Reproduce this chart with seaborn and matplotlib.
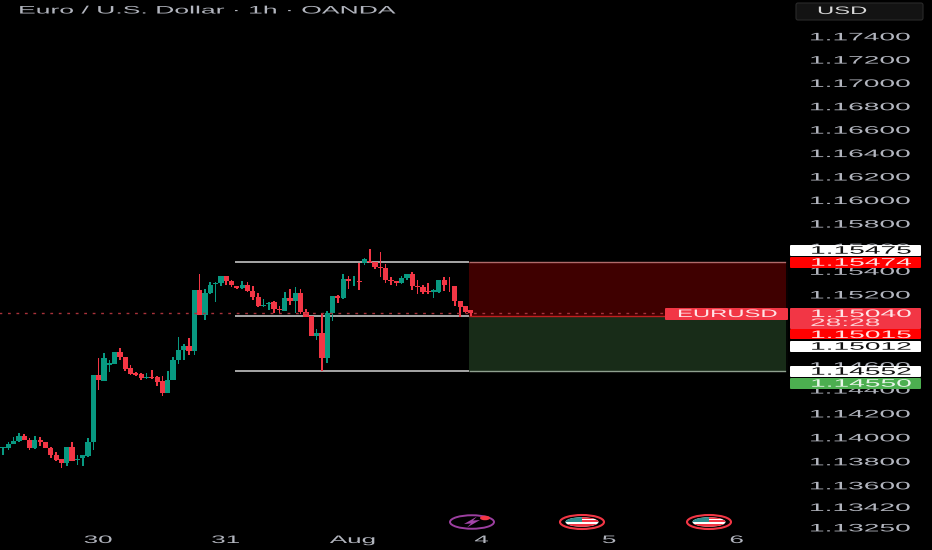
import numpy as np
import pandas as pd
import matplotlib
matplotlib.use("Agg")
import matplotlib.pyplot as plt
import seaborn as sns
from matplotlib.patches import Ellipse, Polygon, Rectangle, FancyBboxPatch
from matplotlib.patheffects import AbstractPathEffect
from matplotlib.ticker import NullLocator
from matplotlib.transforms import Affine2D

# EURUSD 1h candles, oldest first
opens = [1.13913, 1.13908, 1.13947, 1.13967, 1.14012, 1.13981, 1.13908, 1.13975, 1.13964, 1.13913,
         1.13851, 1.13818, 1.13784, 1.13916, 1.13812, 1.13829, 1.13846, 1.13958, 1.14520, 1.14475,
         1.14604, 1.14618, 1.14714, 1.14672, 1.14579, 1.14543, 1.14531, 1.14498, 1.14509, 1.14503,
         1.14475, 1.14374, 1.14481, 1.14649, 1.14728, 1.14762, 1.14725, 1.15239, 1.15029, 1.15211,
         1.15290, 1.15296, 1.15352, 1.15313, 1.15268, 1.15251, 1.15284, 1.15231, 1.15178, 1.15099,
         1.15121, 1.15133, 1.15079, 1.15062, 1.15166, 1.15144, 1.15211, 1.15054, 1.15015, 1.14852,
         1.14877, 1.14666, 1.15043, 1.15183, 1.15169, 1.15329, 1.15318, 1.15313, 1.15470, 1.15484,
         1.15478, 1.15436, 1.15425, 1.15324, 1.15310, 1.15296, 1.15341, 1.15372, 1.15273, 1.15262,
         1.15231, 1.15225, 1.15217, 1.15324, 1.15282, 1.15273, 1.15141, 1.15099, 1.15065]
closes = [1.13919, 1.13947, 1.13969, 1.14012, 1.13981, 1.13908, 1.13975, 1.13964, 1.13913, 1.13849,
          1.13812, 1.13784, 1.13919, 1.13806, 1.13820, 1.13849, 1.13961, 1.14520, 1.14481, 1.14666,
          1.14627, 1.14714, 1.14672, 1.14576, 1.14531, 1.14523, 1.14495, 1.14506, 1.14498, 1.14467,
          1.14374, 1.14481, 1.14649, 1.14728, 1.14762, 1.14722, 1.15239, 1.15029, 1.15211, 1.15284,
          1.15301, 1.15352, 1.15310, 1.15276, 1.15254, 1.15282, 1.15231, 1.15178, 1.15099, 1.15113,
          1.15127, 1.15079, 1.15065, 1.15169, 1.15147, 1.15211, 1.15048, 1.15012, 1.14852, 1.14877,
          1.14666, 1.15043, 1.15183, 1.15166, 1.15329, 1.15310, 1.15324, 1.15307, 1.15498, 1.15473,
          1.15433, 1.15425, 1.15318, 1.15313, 1.15301, 1.15343, 1.15372, 1.15268, 1.15262, 1.15225,
          1.15223, 1.15234, 1.15324, 1.15282, 1.15276, 1.15141, 1.15096, 1.15051, 1.15043]
highs = [1.13919, 1.13958, 1.14003, 1.14034, 1.14026, 1.13997, 1.14009, 1.14003, 1.13964, 1.13919,
         1.13879, 1.13823, 1.13919, 1.13964, 1.13849, 1.13854, 1.13997, 1.14520, 1.14666, 1.14706,
         1.14649, 1.14714, 1.14751, 1.14677, 1.14610, 1.14551, 1.14540, 1.14540, 1.14568, 1.14515,
         1.14515, 1.14557, 1.14677, 1.14843, 1.14784, 1.14835, 1.15239, 1.15369, 1.15245, 1.15304,
         1.15307, 1.15352, 1.15358, 1.15324, 1.15273, 1.15313, 1.15304, 1.15268, 1.15211, 1.15158,
         1.15133, 1.15141, 1.15099, 1.15223, 1.15248, 1.15262, 1.15245, 1.15079, 1.15015, 1.14908,
         1.15040, 1.15062, 1.15183, 1.15195, 1.15374, 1.15360, 1.15358, 1.15470, 1.15506, 1.15585,
         1.15478, 1.15557, 1.15459, 1.15346, 1.15310, 1.15358, 1.15374, 1.15386, 1.15324, 1.15276,
         1.15301, 1.15245, 1.15324, 1.15346, 1.15346, 1.15273, 1.15141, 1.15105, 1.15065]
lows = [1.13851, 1.13896, 1.13941, 1.13964, 1.13975, 1.13896, 1.13899, 1.13930, 1.13913, 1.13829,
        1.13801, 1.13742, 1.13761, 1.13801, 1.13773, 1.13764, 1.13840, 1.13891, 1.14396, 1.14470,
        1.14548, 1.14613, 1.14644, 1.14557, 1.14523, 1.14515, 1.14481, 1.14492, 1.14492, 1.14430,
        1.14346, 1.14368, 1.14478, 1.14616, 1.14649, 1.14694, 1.14694, 1.15023, 1.14987, 1.15206,
        1.15138, 1.15273, 1.15282, 1.15262, 1.15245, 1.15248, 1.15225, 1.15152, 1.15096, 1.15096,
        1.15065, 1.15043, 1.15043, 1.15057, 1.15110, 1.15043, 1.15032, 1.15009, 1.14852, 1.14815,
        1.14554, 1.14627, 1.14973, 1.15124, 1.15164, 1.15245, 1.15268, 1.15239, 1.15453, 1.15470,
        1.15417, 1.15349, 1.15296, 1.15282, 1.15268, 1.15290, 1.15318, 1.15237, 1.15206, 1.15206,
        1.15200, 1.15166, 1.15209, 1.15228, 1.15217, 1.15105, 1.15006, 1.15043, 1.15018]

# price axis and time axis labels
price_ticks = [1.174, 1.172, 1.170, 1.168, 1.166, 1.164, 1.162, 1.160, 1.158, 1.156, 1.154, 1.152,
               1.146, 1.144, 1.142, 1.140, 1.138, 1.136, 1.1342, 1.1325]
price_labels = ["1.17400", "1.17200", "1.17000", "1.16800", "1.16600", "1.16400", "1.16200",
                "1.16000", "1.15800", "1.15600", "1.15400", "1.15200", "1.14600", "1.14400",
                "1.14200", "1.14000", "1.13800", "1.13600", "1.13420", "1.13250"]
time_ticks = [18, 42, 66, 90, 114, 138]
time_labels = ["30", "31", "Aug", "4", "5", "6"]

# the drawn position levels
stop_level = 1.15475
entry_level = 1.15015
target_level = 1.14552
last_price = 1.15040

GREEN = "#089981"
RED = "#f23645"
GREY = "#b2b5be"
FONT = "Liberation Sans"


class WideText(AbstractPathEffect):
    """The screenshot is squashed, so stretch glyphs sideways from their left edge."""

    def __init__(self, sx):
        super().__init__()
        self.sx = sx

    def draw_path(self, renderer, gc, tpath, affine, rgbFace=None):
        renderer.draw_path(gc, tpath, Affine2D().scale(self.sx, 1) + affine, rgbFace)


sns.set_theme(style="dark", rc={"axes.facecolor": "black", "figure.facecolor": "black",
                                "axes.edgecolor": "black"})
plt.rcParams["font.family"] = [FONT, "DejaVu Sans"]

fig = plt.figure(figsize=(9.32, 5.5), dpi=100)
ax = fig.add_axes([0, 18 / 550, 787 / 932, 532 / 550])

candles = pd.DataFrame({"hour": np.arange(len(opens)), "open": opens, "high": highs,
                        "low": lows, "close": closes})
candles["up"] = candles["close"] >= candles["open"]
candles["wick"] = candles["high"] - candles["low"]
candles["body"] = (candles["close"] - candles["open"]).abs().clip(lower=0.00004)
candles["base"] = candles[["open", "close"]].min(axis=1)

# position boxes behind the candles
ax.fill_between([87.7, 148], stop_level, entry_level, color="#3f0000", lw=0, zorder=0.5)
ax.fill_between([87.7, 148], entry_level, target_level, color="#182c18", lw=0, zorder=0.5)

for is_up, color in [(True, GREEN), (False, RED)]:
    part = candles[candles["up"] == is_up]
    sns.barplot(data=part, x="hour", y="wick", bottom=part["low"].values, native_scale=True,
                color=color, saturation=1, width=0.3, errorbar=None, linewidth=0, ax=ax, zorder=3)
    sns.barplot(data=part, x="hour", y="body", bottom=part["base"].values, native_scale=True,
                color=color, saturation=1, width=0.98, errorbar=None, linewidth=0, ax=ax, zorder=3)

ax.hlines([stop_level, entry_level, target_level], 43.65, 87.7, color="#b4b4b4", lw=1.3, zorder=2)
ax.hlines(stop_level, 87.7, 148, color="#b06a6a", lw=1.0, zorder=2)
ax.hlines(entry_level, 87.7, 148, color="#c02020", lw=1.0, zorder=2)
ax.hlines(target_level, 87.7, 148, color="#8fa08f", lw=1.0, zorder=2)
ax.hlines(last_price, -1, 125, color="#a8323a", lw=1.0, linestyles=(0, (2, 4.1)), zorder=4)

ax.set_yscale("log")
ax.set_xlim(-0.564, 147.5)
ax.set_ylim(1.13212, 1.17713)
ax.yaxis.set_minor_locator(NullLocator())
ax.xaxis.set_minor_locator(NullLocator())
ax.yaxis.tick_right()
ax.set_yticks(price_ticks, price_labels)
ax.set_xticks(time_ticks, [""] * len(time_ticks))
ax.tick_params(axis="y", length=0, pad=15.8, labelsize=7.8, labelcolor=GREY)
ax.tick_params(axis="x", length=0)
ax.set_xlabel("")
ax.set_ylabel("")
ax.grid(False)
for tick in ax.get_yticklabels():
    tick.set_path_effects([WideText(2.6)])

# everything below is placed in screenshot pixels
px = Affine2D().scale(1, -1).translate(0, 550)


def label(x, y, s, color=GREY, size=7.8, sx=2.6):
    return fig.text(x, y, s, transform=px, color=color, fontsize=size, va="center", ha="left",
                    path_effects=[WideText(sx)], zorder=6)


def tag(y0, y1, color, x0=790, x1=921):
    fig.add_artist(FancyBboxPatch((x0 + 1, y0 + 1), x1 - x0 - 2, y1 - y0 - 2, boxstyle="round,pad=1",
                                  transform=px, facecolor=color, edgecolor="none", zorder=5))


label(18, 10.5, "Euro / U.S. Dollar · 1h · OANDA", size=7.8, sx=2.45)

fig.add_artist(FancyBboxPatch((798, 5), 123, 13, boxstyle="round,pad=2", transform=px,
                              facecolor="#131313", edgecolor="#2a2a2a", lw=0.8, zorder=5))
label(817, 11, "USD", color="#d8d8d8", sx=2.2)

tag(308, 320, RED, x0=665, x1=788)
label(677, 314, "EURUSD", color="#ffe4e6", sx=2.2)

tag(245, 256, "white")
label(810, 250.7, "1.15475", color="#111111")
tag(257, 268, "#ff0000")
label(810, 262.7, "1.15474", color="#ffe0e0")
tag(308, 329, RED)
label(810, 314, "1.15040", color="#ffe4e6")
label(810, 323, "28:28", color="#ffd0d4")
tag(329, 339, "#ff0000")
label(810, 335, "1.15015", color="#ffe0e0")
tag(341, 352, "white")
label(810, 346.7, "1.15012", color="#111111")
tag(366, 377, "white")
label(810, 371.7, "1.14552", color="#111111")
tag(378, 389, "#4caf50")
label(810, 383.7, "1.14550", color="#e8f5e9")

# date labels sit centred on their tick, so shift them by the stretched half width
for hour, text in zip(time_ticks, time_labels):
    x = 3 + 5.315 * hour
    half = 24 if text == "Aug" else (15 if len(text) == 2 else 7)
    label(x - half, 540, text, sx=2.4)


def flag_icon(cx, cy=522):
    fig.add_artist(Ellipse((cx, cy), 44, 14, transform=px, facecolor="black", edgecolor=RED, lw=1.5, zorder=5))
    inner = Ellipse((cx, cy), 33, 9.5, transform=px, facecolor="white", edgecolor="none", zorder=5)
    fig.add_artist(inner)
    parts = [(cx - 17, cy - 5, 17, 5, "#2f8f8f"), (cx, cy - 5, 17, 1.6, RED),
             (cx, cy - 1.6, 17, 1.6, RED), (cx - 17, cy + 2.4, 34, 2.6, RED)]
    for x, y, w, h, color in parts:
        rect = Rectangle((x, y), w, h, transform=px, facecolor=color, edgecolor="none", zorder=5.5)
        rect.set_clip_path(inner)
        fig.add_artist(rect)


fig.add_artist(Ellipse((472, 522), 44, 13.5, transform=px, facecolor="black", edgecolor="#9c3fa0", lw=1.4, zorder=5))
fig.add_artist(Polygon([(477, 516.5), (464, 524), (471, 523.5), (467, 527.5), (480, 520), (473, 520.5)],
                       closed=True, transform=px, facecolor="#a445aa", edgecolor="none", zorder=5.5))
fig.add_artist(Ellipse((485, 518), 10, 4.5, transform=px, facecolor=RED, edgecolor="none", zorder=5.5))
flag_icon(582)
flag_icon(709)

fig.savefig("out.png", dpi=100, facecolor="black")
